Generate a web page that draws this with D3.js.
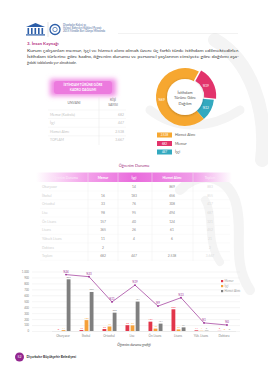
<!DOCTYPE html>
<html>
<head>
<meta charset="utf-8">
<script src="https://cdn.jsdelivr.net/npm/d3@7"></script>
<style>
  html, body { margin: 0; padding: 0; background: #fff; }
  svg { display: block; font-family: Lato, "Open Sans", sans-serif; }
</style>
</head>
<body>
<svg id="page"></svg>
<script>
// --- data ---
var categories = ["Okuryazar", "İlkokul", "Ortaokul", "Lise", "Ön Lisans", "Lisans", "Yük. Lisans", "Doktora"];
var tableRows  = ["Okuryazar", "İlkokul", "Ortaokul", "Lise", "Ön Lisans", "Lisans", "Yüksek Lisans", "Doktora"];
var memur  = [0, 16, 33, 98, 157, 365, 11, 2];
var isci   = [14, 183, 76, 95, 40, 26, 4, 0];
var hizmet = [869, 656, 308, 494, 124, 61, 6, 0];
var shareLabels = ["%24", "%23", "%11", "%19", "%9", "%13", "%1", "%0"];
var shareValues = [24, 23, 11, 19, 9, 13, 1, 0];
var totalRow = ["682", "447", "2.538", "3.667"];
var yTicks = [0, 100, 200, 300, 400, 500, 600, 700, 800, 900, 1000];

var kadroLabels = ["Memur (Kadrolu)", "İşçi", "Hizmet Alımı", "TOPLAM"];
var kadroValues = ["682", "447", "2.538", "3.667"];

var donutNames  = ["Memur", "İşçi", "Hizmet Alımı"];
var donutValues = [682, 447, 2538];
var donutLabels = ["%19", "%12", "%69"];
var legendOrder = ["Hizmet Alımı", "Memur", "İşçi"];
var legendValues = ["2.538", "682", "447"];

var seriesNames = ["Memur", "İşçi", "Hizmet Alımı"];

var width = 268, height = 380;
var svg = d3.select('#page').attr('width', width).attr('height', height);
var defs = svg.append('defs');

var fmt = d3.formatLocale({decimal: ",", thousands: ".", grouping: [3], currency: ["", ""]}).format(",d");

// faint watermark swirl on the right
var wm = svg.append('g').attr('fill', 'none').attr('stroke', '#f4f4f4').attr('stroke-linecap', 'round');
wm.append('path').attr('stroke-width', 14).attr('d', 'M215,40 C250,60 268,110 262,160');
wm.append('path').attr('stroke-width', 10).attr('d', 'M180,190 C200,170 225,175 235,200 C245,230 230,260 250,290');
wm.append('path').attr('stroke-width', 8).attr('d', 'M205,200 C215,215 205,240 220,262');
wm.append('path').attr('stroke-width', 9).attr('d', 'M150,110 C175,130 210,130 240,110');

// --- header ---
var head = svg.append('g');
var temple = head.append('g').attr('fill', '#2c5ea8');
temple.append('path').attr('d', 'M26,27 L35.5,23 L45,27 Z');
[27.5, 31, 34.5, 38, 41.5].forEach(function (x) {
  temple.append('rect').attr('x', x).attr('y', 28).attr('width', 1.6).attr('height', 6);
});
temple.append('rect').attr('x', 26).attr('y', 34.3).attr('width', 19).attr('height', 1.2);
head.append('line').attr('x1', 48).attr('x2', 48).attr('y1', 22).attr('y2', 37).attr('stroke', '#bbb').attr('stroke-width', 0.4);
head.append('circle').attr('cx', 55).attr('cy', 29.5).attr('r', 5).attr('fill', 'none').attr('stroke', '#2c5ea8').attr('stroke-width', 1.3);
head.append('circle').attr('cx', 55).attr('cy', 29.5).attr('r', 2.2).attr('fill', 'none').attr('stroke', '#2c5ea8').attr('stroke-width', 0.7);
head.selectAll('text.logo')
  .data(["Diyarbakır Kalesi ve", "Hevsel Bahçeleri Kültürel Peyzajı", "2015 Yılından Beri Dünya Mirasında"])
  .enter().append('text')
  .attr('x', 63).attr('y', function (d, i) { return 25.5 + i * 3.4; })
  .attr('font-size', 2.7).attr('fill', '#4a6a9c').text(function (d) { return d; });
head.append('line').attr('x1', 118).attr('x2', 238).attr('y1', 33.5).attr('y2', 33.5).attr('stroke', '#ddd').attr('stroke-width', 0.4);

svg.append('text').attr('x', 27).attr('y', 45).attr('font-size', 4.4).attr('font-weight', 700)
  .attr('fill', '#b3307f').text('3. İnsan Kaynağı');

var para = [
  "Kurum çalışanları memur, işçi ve hizmet alımı olmak üzere üç farklı türde istihdam edilmektedirler.",
  "İstihdam türlerine göre kadro, öğrenim durumu ve personel yaşlarının cinsiyete göre dağılımı aşa-",
  "ğıdaki tablolarda yer almaktadır."
];
svg.selectAll('text.para').data(para).enter().append('text')
  .attr('x', 27).attr('y', function (d, i) { return 52 + i * 6; })
  .attr('font-size', 3.6).attr('fill', '#3a3a3a')
  .attr('textLength', function (d, i) { return i < 2 ? 212 : null; })
  .attr('lengthAdjust', 'spacingAndGlyphs')
  .text(function (d) { return d; });

// --- kadro table ---
var glow = defs.append('filter').attr('id', 'glow').attr('x', '-30%').attr('y', '-50%').attr('width', '160%').attr('height', '200%');
glow.append('feGaussianBlur').attr('stdDeviation', 2.5);

var kt = svg.append('g');
kt.append('rect').attr('x', 50).attr('y', 79).attr('width', 66).attr('height', 17).attr('fill', '#f08be4').attr('filter', 'url(#glow)');
kt.append('rect').attr('x', 54).attr('y', 81).attr('width', 58).attr('height', 13).attr('fill', '#ec7ade').attr('rx', 3);
kt.append('text').attr('x', 83).attr('y', 86.3).attr('text-anchor', 'middle').attr('font-size', 3.2).attr('font-weight', 700).attr('fill', '#fff').text('İSTİHDAM TÜRÜNE GÖRE');
kt.append('text').attr('x', 83).attr('y', 91.3).attr('text-anchor', 'middle').attr('font-size', 3.2).attr('font-weight', 700).attr('fill', '#fff').text('KADRO DAĞILIMI');
kt.append('text').attr('x', 74).attr('y', 104).attr('text-anchor', 'middle').attr('font-size', 3.4).attr('fill', '#777').text('UNVANI');
kt.append('text').attr('x', 113).attr('y', 100.5).attr('text-anchor', 'middle').attr('font-size', 3.4).attr('fill', '#777').text('KİŞİ');
kt.append('text').attr('x', 113).attr('y', 106).attr('text-anchor', 'middle').attr('font-size', 3.4).attr('fill', '#777').text('SAYISI');
kt.append('line').attr('x1', 99).attr('x2', 99).attr('y1', 97).attr('y2', 145).attr('stroke', '#e4e4e4').attr('stroke-width', 0.5);

var kRows = kt.selectAll('g.krow').data(kadroLabels).enter().append('g')
  .attr('transform', function (d, i) { return 'translate(0,' + (115.5 + i * 8.6) + ')'; });
kRows.append('line').attr('x1', 48).attr('x2', 126).attr('y1', -5.5).attr('y2', -5.5).attr('stroke', '#ececec').attr('stroke-width', 0.4);
kRows.append('text').attr('x', 50).attr('font-size', 3.4).attr('fill', '#c4c4c4').text(function (d) { return d; });
kRows.append('text').attr('x', 124).attr('text-anchor', 'end').attr('font-size', 3.4).attr('fill', '#bdbdbd')
  .text(function (d, i) { return kadroValues[i]; });

// --- donut ---
var donutColor = d3.scaleOrdinal().domain(donutNames).range(['#e2336b', '#33a9bf', '#f6a730']);
var pie = d3.pie().sort(null).startAngle(0.5).endAngle(0.5 + 2 * Math.PI);
var arcs = pie(donutValues);
var arc = d3.arc().innerRadius(17).outerRadius(29);
var dg = svg.append('g').attr('transform', 'translate(185,97)');
var shadow = defs.append('filter').attr('id', 'shadow').attr('x', '-50%').attr('y', '-50%').attr('width', '200%').attr('height', '200%');
shadow.append('feDropShadow').attr('dx', 0).attr('dy', 0.5).attr('stdDeviation', 1.2).attr('flood-color', '#000').attr('flood-opacity', 0.3);

dg.selectAll('path').data(arcs).enter().append('path')
  .attr('d', arc)
  .attr('fill', function (d, i) { return donutColor(donutNames[i]); })
  .attr('transform', function (d, i) {
    if (i !== 0) return null;
    var c = arc.centroid(d), k = 2.5 / Math.hypot(c[0], c[1]);
    return 'translate(' + c[0] * k + ',' + c[1] * k + ')';
  });
dg.append('circle').attr('r', 18).attr('fill', '#fff').attr('filter', 'url(#shadow)');
dg.selectAll('text.pct').data(arcs).enter().append('text')
  .attr('transform', function (d) { var c = d3.arc().innerRadius(23.5).outerRadius(23.5).centroid(d); return 'translate(' + c + ')'; })
  .attr('dy', 1.1).attr('text-anchor', 'middle').attr('font-size', 3.2).attr('fill', '#fff')
  .text(function (d, i) { return donutLabels[i]; });
["İstihdam", "Türüne Göre", "Dağılım"].forEach(function (t, i) {
  dg.append('text').attr('y', -4.5 + i * 5.5).attr('dy', 1.2).attr('text-anchor', 'middle').attr('font-size', 4).attr('fill', '#555').text(t);
});

var lg = svg.selectAll('g.dleg').data(legendOrder).enter().append('g')
  .attr('transform', function (d, i) { return 'translate(157,' + (132.5 + i * 8.5) + ')'; });
lg.append('rect').attr('width', 15).attr('height', 5).attr('fill', function (d) { return donutColor(d); });
lg.append('text').attr('x', 7.5).attr('y', 3.6).attr('text-anchor', 'middle').attr('font-size', 3).attr('fill', '#fff')
  .text(function (d, i) { return legendValues[i]; });
lg.append('text').attr('x', 175 - 157).attr('y', 3.8).attr('font-size', 3.6).attr('fill', '#555').text(function (d) { return d; });

// --- ogrenim table ---
svg.append('text').attr('x', 134).attr('y', 167).attr('text-anchor', 'middle').attr('font-size', 4).attr('fill', '#a3337d').text('Öğrenim Durumu');

var hg = defs.append('linearGradient').attr('id', 'hdr');
hg.append('stop').attr('offset', '0%').attr('stop-color', '#fff');
hg.append('stop').attr('offset', '25%').attr('stop-color', '#f3a3ea');
hg.append('stop').attr('offset', '50%').attr('stop-color', '#e96bdc');
hg.append('stop').attr('offset', '80%').attr('stop-color', '#f09ce8');
hg.append('stop').attr('offset', '100%').attr('stop-color', '#fff');
svg.append('rect').attr('x', 36).attr('y', 172.5).attr('width', 196).attr('height', 9.5).attr('fill', 'url(#hdr)');

var colX = [65, 103, 134, 172, 210];
var colSep = [88, 118, 152, 193];
var colHead = ["Öğrenim Durumu", "Memur", "İşçi", "Hizmet Alımı", "Toplam"];
svg.selectAll('text.ch').data(colHead).enter().append('text')
  .attr('x', function (d, i) { return colX[i]; }).attr('y', 178.6).attr('text-anchor', 'middle')
  .attr('font-size', 3.3).attr('font-weight', 700)
  .attr('fill', function (d, i) { return (i === 0 || i === 4) ? '#fbe3f8' : '#fff'; })
  .text(function (d) { return d; });
svg.selectAll('line.cs').data(colSep).enter().append('line')
  .attr('x1', function (d) { return d; }).attr('x2', function (d) { return d; })
  .attr('y1', 172.5).attr('y2', 261).attr('stroke', '#ececec').attr('stroke-width', 0.5);

function cell(v) { return v === 0 ? "" : fmt(v); }
var tRows = tableRows.map(function (name, i) {
  return [name, cell(memur[i]), cell(isci[i]), cell(hizmet[i]), fmt(memur[i] + isci[i] + hizmet[i])];
});
tRows.push(["Toplam"].concat(totalRow));
var tr = svg.selectAll('g.trow').data(tRows).enter().append('g')
  .attr('transform', function (d, i) { return 'translate(0,' + (188 + i * 8.65) + ')'; });
tr.append('line').attr('x1', 40).attr('x2', 230).attr('y1', 3).attr('y2', 3).attr('stroke', '#f2f2f2').attr('stroke-width', 0.4);
tr.selectAll('text').data(function (d) { return d; }).enter().append('text')
  .attr('x', function (d, j) { return j === 0 ? 42 : colX[j]; })
  .attr('text-anchor', function (d, j) { return j === 0 ? 'start' : 'middle'; })
  .attr('font-size', 3.3)
  .attr('fill', function (d, j) { return j === 0 ? '#cfcfcf' : (j === 4 ? '#dcdcdc' : '#8a8a8a'); })
  .text(function (d) { return d; });

// --- bar chart ---
var chart = svg.append('g');
var yScale = d3.scaleLinear().domain([0, 1000]).range([331, 271.5]);
var pScale = d3.scaleLinear().domain([0, 25]).range([325, 272.5]);
var xScale = d3.scaleBand().domain(categories).range([51.5, 235.5]);
var x1 = d3.scaleBand().domain(seriesNames).range([-6.5, 7.5]).paddingInner(0.25);
var barColor = d3.scaleOrdinal().domain(seriesNames).range(['#e2364a', '#f5a03a', '#7f7f7f']);

chart.append('g').attr('transform', 'translate(32,0)')
  .call(d3.axisLeft(yScale).tickValues(yTicks).tickSize(-208).tickPadding(3).tickFormat(fmt))
  .call(function (g) {
    g.select('.domain').remove();
    g.selectAll('.tick line').attr('stroke', '#e6e6e6').attr('stroke-width', 0.4);
    g.selectAll('.tick text').attr('font-size', 2.8).attr('fill', '#888').attr('font-family', 'Lato, sans-serif');
  });

chart.append('g').attr('transform', 'translate(0,331)')
  .call(d3.axisBottom(xScale).tickSize(0).tickPadding(4))
  .call(function (g) {
    g.select('.domain').attr('stroke', '#d8d8d8').attr('stroke-width', 0.4);
    g.selectAll('.tick text').attr('font-size', 3).attr('fill', '#888').attr('font-family', 'Lato, sans-serif');
  });

var barData = categories.map(function (c, i) {
  return {cat: c, values: [memur[i], isci[i], hizmet[i]]};
});
var groups = chart.selectAll('g.grp').data(barData).enter().append('g')
  .attr('transform', function (d) { return 'translate(' + (xScale(d.cat) + xScale.bandwidth() / 2) + ',0)'; });
groups.selectAll('rect').data(function (d) { return d.values.map(function (v, j) { return {s: seriesNames[j], v: v}; }); })
  .enter().append('rect')
  .attr('x', function (d) { return x1(d.s); })
  .attr('width', x1.bandwidth())
  .attr('y', function (d) { return yScale(d.v); })
  .attr('height', function (d) { return 331 - yScale(d.v); })
  .attr('fill', function (d) { return barColor(d.s); });
groups.selectAll('text').data(function (d) { return d.values.map(function (v, j) { return {s: seriesNames[j], v: v}; }); })
  .enter().append('text')
  .attr('x', function (d) { return x1(d.s) + x1.bandwidth() / 2; })
  .attr('y', function (d) { return yScale(d.v) - 1.5; })
  .attr('text-anchor', 'middle').attr('font-size', 2.5)
  .attr('fill', function (d) { return d3.color(barColor(d.s)).brighter(0.3); })
  .text(function (d) { return d.v; });

// share line
var lineData = categories.map(function (c, i) { return {cat: c, v: shareValues[i], label: shareLabels[i]}; });
var line = d3.line()
  .x(function (d) { return xScale(d.cat) + xScale.bandwidth() / 2 + 3; })
  .y(function (d) { return pScale(d.v); });
chart.append('path').datum(lineData).attr('d', line).attr('fill', 'none').attr('stroke', '#9b2f95').attr('stroke-width', 0.7);
chart.selectAll('circle.pt').data(lineData).enter().append('circle')
  .attr('cx', function (d) { return xScale(d.cat) + xScale.bandwidth() / 2 + 3; })
  .attr('cy', function (d) { return pScale(d.v); })
  .attr('r', 0.9).attr('fill', '#9b2f95');
chart.selectAll('text.pl').data(lineData).enter().append('text')
  .attr('x', function (d) { return xScale(d.cat) + xScale.bandwidth() / 2 + 3; })
  .attr('y', function (d) { return pScale(d.v) - 2; })
  .attr('text-anchor', 'middle').attr('font-size', 2.8).attr('fill', '#9b2f95')
  .text(function (d) { return d.label; });

var leg = chart.selectAll('g.bl').data(seriesNames).enter().append('g')
  .attr('transform', function (d, i) { return 'translate(221,' + (282 + i * 5) + ')'; });
leg.append('rect').attr('y', -2).attr('width', 2.2).attr('height', 2.2).attr('fill', function (d) { return barColor(d); });
leg.append('text').attr('x', 3.5).attr('y', 0.2).attr('font-size', 2.8).attr('fill', '#999').text(function (d) { return d; });

svg.append('text').attr('x', 134).attr('y', 346).attr('text-anchor', 'middle').attr('font-size', 3.4)
  .attr('font-style', 'italic').attr('fill', '#444').text('Öğrenim durumu grafiği');

// --- footer ---
svg.append('circle').attr('cx', 19.5).attr('cy', 357).attr('r', 4.5).attr('fill', '#93278f');
svg.append('text').attr('x', 19.5).attr('y', 358.3).attr('text-anchor', 'middle').attr('font-size', 3.4).attr('fill', '#fff').text('52');
svg.append('text').attr('x', 26.5).attr('y', 358.3).attr('font-size', 3.4).attr('font-weight', 700).attr('fill', '#333').text('Diyarbakır Büyükşehir Belediyesi');
</script>
</body>
</html>
